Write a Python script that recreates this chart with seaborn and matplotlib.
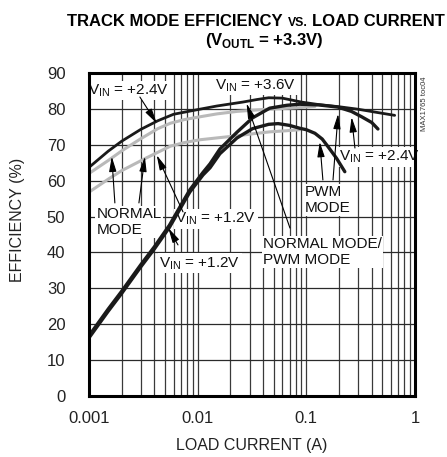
import numpy as np
import pandas as pd
import seaborn as sns
import matplotlib.pyplot as plt
from matplotlib.ticker import LogLocator, NullFormatter

# load current (A) / efficiency (%)
i_36 = [0.001, 0.0015, 0.002, 0.003, 0.0043, 0.006, 0.01, 0.015, 0.026, 0.035,
        0.045, 0.06, 0.075, 0.09, 0.13, 0.2, 0.3, 0.45, 0.65]
eff_36 = [63.7, 68.2, 71.0, 74.3, 76.7, 78.5, 79.8, 80.8, 81.9, 82.6,
          83.1, 83.0, 82.4, 81.9, 81.2, 80.6, 79.9, 79.0, 78.2]

i_pwm24 = [0.001, 0.0015, 0.002, 0.003, 0.004, 0.0055, 0.0076, 0.0085, 0.0112, 0.013,
           0.016, 0.023, 0.032, 0.046, 0.066, 0.087, 0.13, 0.195, 0.26, 0.323, 0.4, 0.456]
eff_pwm24 = [16.8, 24.2, 29.2, 36.6, 41.6, 47.6, 55.0, 57.5, 62.3, 64.7,
             68.8, 73.5, 77.5, 80.2, 81.0, 81.3, 81.1, 80.5, 79.3, 77.8, 76.2, 74.4]

i_pwm12 = [0.001, 0.0015, 0.002, 0.003, 0.004, 0.0055, 0.0076, 0.0085, 0.0112, 0.013,
           0.016, 0.023, 0.032, 0.045, 0.055, 0.07, 0.087, 0.1, 0.12, 0.14, 0.159, 0.19, 0.226]
eff_pwm12 = [16.2, 23.6, 28.6, 36.0, 41.0, 47.0, 54.4, 56.9, 61.6, 63.6,
             67.5, 71.9, 74.5, 75.7, 75.9, 75.4, 74.6, 74.2, 73.2, 71.6, 69.4, 66.2, 62.5]

i_norm24 = [0.001, 0.0015, 0.002, 0.003, 0.0043, 0.0056, 0.0075, 0.0105, 0.015, 0.023,
            0.035, 0.05, 0.07, 0.09, 0.12]
eff_norm24 = [62.0, 65.6, 68.3, 71.7, 74.5, 76.0, 77.0, 77.8, 78.6, 79.3,
              79.7, 80.0, 80.2, 80.4, 80.7]

i_norm12 = [0.001, 0.0015, 0.002, 0.0033, 0.0056, 0.0075, 0.0105, 0.016, 0.023, 0.033,
            0.046, 0.065, 0.087]
eff_norm12 = [56.8, 60.4, 62.8, 66.2, 69.6, 70.6, 71.4, 72.0, 72.5, 73.1,
              73.6, 73.9, 74.2]

x_ticks = [0.001, 0.01, 0.1, 1]
x_ticklabels = ['0.001', '0.01', '0.1', '1']
y_ticks = list(range(0, 91, 10))

sns.set_style('white')
plt.rcParams['font.family'] = ['Liberation Sans', 'DejaVu Sans']
plt.rcParams['axes.axisbelow'] = True

W, H = 447, 457
fig = plt.figure(figsize=(W / 100, H / 100), dpi=100)
ax = fig.add_axes([89 / W, 1 - 396 / H, 326 / W, 323 / H])

GRAY = '#b9b9b9'
DARK = '#1a1a1a'
sns.lineplot(x=i_norm24, y=eff_norm24, ax=ax, color=GRAY, lw=2.2, zorder=4)
sns.lineplot(x=i_norm12, y=eff_norm12, ax=ax, color=GRAY, lw=2.2, zorder=4)
sns.lineplot(x=i_pwm12, y=eff_pwm12, ax=ax, color=DARK, lw=2.4, zorder=5)
sns.lineplot(x=i_pwm24, y=eff_pwm24, ax=ax, color=DARK, lw=2.4, zorder=5)
sns.lineplot(x=i_36, y=eff_36, ax=ax, color=DARK, lw=2.0, zorder=5)

ax.set_xscale('log')
ax.set_xlim(0.001, 1)
ax.set_ylim(0, 90)
ax.set_xticks(x_ticks, labels=x_ticklabels)
ax.xaxis.set_minor_locator(LogLocator(base=10, subs=np.arange(2, 10)))
ax.xaxis.set_minor_formatter(NullFormatter())
ax.set_yticks(y_ticks)
ax.tick_params(axis='both', which='both', length=0, labelsize=12, colors='#222222')
ax.tick_params(axis='y', pad=17)
ax.tick_params(axis='x', pad=11)
ax.grid(which='both', axis='x', color='#3a3a3a', lw=0.9)
ax.grid(which='major', axis='y', color='#2a2a2a', lw=0.9)
for s in ax.spines.values():
    s.set_linewidth(2.2)
    s.set_color('black')
    s.set_zorder(10)

ax.set_xlabel('LOAD CURRENT (A)', fontsize=11.5, color='#222222')
ax.set_ylabel('EFFICIENCY (%)', fontsize=11.5, color='#222222')
ax.xaxis.set_label_coords(0.5, -0.13)
ax.yaxis.set_label_coords(-0.196, 0.545)

box = dict(facecolor='white', edgecolor='none', pad=1.0)
arrow = dict(arrowstyle='-|>,head_length=0.9,head_width=0.22', color='black',
             lw=0.8, shrinkA=0, shrinkB=0)


def label(txt, x, y, ha='center'):
    ax.text(x, y, txt, fontsize=11, ha=ha, va='center', bbox=box, zorder=3,
            color='#111111', linespacing=1.15)


def point(tail, tip):
    ax.annotate('', xy=tip, xytext=tail, arrowprops=arrow, zorder=6)


VIN = r'V$_{\mathregular{IN}}$'
label(VIN + ' = +2.4V', 0.00233, 85.2)
point((0.00294, 83.3), (0.0042, 76.0))

label(VIN + ' = +3.6V', 0.0344, 86.6)

label('NORMAL MODE/\nPWM MODE', 0.0399, 40.1, ha='left')
point((0.0707, 46.8), (0.0282, 81.5))

label('NORMAL\nMODE', 0.00118, 48.5, ha='left')
point((0.00173, 53.8), (0.00162, 66.7))
point((0.00288, 53.8), (0.00327, 66.7))

label(VIN + ' = +1.2V', 0.0147, 49.3)
point((0.00733, 51.3), (0.0042, 67.1))

label(VIN + ' = +1.2V', 0.0105, 37.0)
point((0.00659, 42.1), (0.00537, 46.8))

label('PWM\nMODE', 0.0971, 54.6, ha='left')
point((0.142, 60.2), (0.133, 70.8))
point((0.176, 60.2), (0.196, 78.6))

label(VIN + ' = +2.4V', 0.475, 66.6)
point((0.28, 69.1), (0.261, 77.7))

fig.text(424 / W, 1 - 104 / H, 'MAX1765 toc04', rotation=90, fontsize=5.5,
         ha='center', va='center', color='#333333')


# title lines assembled from pieces so "VS." can be smaller
def title_line(parts, y_px, xc_px, gap):
    texts = [fig.text(0, 1 - y_px / H, s, fontsize=fs, fontweight='bold',
                      ha='left', va='baseline', color='black') for s, fs in parts]
    fig.canvas.draw()
    r = fig.canvas.get_renderer()
    widths = [t.get_window_extent(r).width for t in texts]
    total = sum(widths) + gap * (len(texts) - 1)
    x = xc_px - total / 2
    for t, w in zip(texts, widths):
        t.set_x(x / W)
        x += w + gap


title_line([('TRACK MODE EFFICIENCY', 12), ('VS.', 8.8), ('LOAD CURRENT', 12)], 26, 256, 4.5)
title_line([(r'(V$_{\mathregular{OUTL}}$ = +3.3V)', 12)], 45, 264, 0)

fig.savefig('out.png', dpi=100)
